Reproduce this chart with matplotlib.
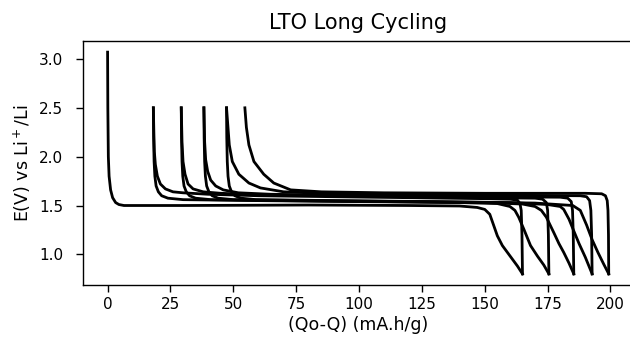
import matplotlib
matplotlib.use('Agg')
import matplotlib.pyplot as plt

## --- Galvanostatic cycling data, LTO half cell
# Capacity (Qo-Q) in mA.h/g and potential E in V vs Li+/Li
# Discharge 1 (first lithiation, from OCV)
dis1_q = [0, 0.1, 0.3, 0.6, 1.2, 2.0, 3.2, 4.5, 6.5, 30, 80, 120, 140, 147, 150, 152, 153.5, 155, 157, 159, 161, 163, 165]
dis1_e = [3.07, 2.5, 2.0, 1.8, 1.66, 1.58, 1.53, 1.51, 1.50, 1.50, 1.505, 1.50, 1.495, 1.48, 1.46, 1.41, 1.30, 1.19, 1.09, 1.02, 0.95, 0.88, 0.80]

# Charge 1
chg1_q = [165, 164.8, 164.5, 164, 163, 160, 150, 120, 90, 60, 40, 30, 26, 23, 21, 19.8, 19.0, 18.6, 18.4, 18.2]
chg1_e = [0.80, 1.20, 1.45, 1.52, 1.555, 1.565, 1.57, 1.58, 1.59, 1.60, 1.615, 1.63, 1.64, 1.67, 1.72, 1.80, 1.92, 2.05, 2.25, 2.50]

# Discharge 2
dis2_q = [18.2, 18.3, 18.5, 18.8, 19.3, 20.2, 21.5, 24, 30, 60, 100, 140, 155, 160, 162, 163.5, 165.5, 168.2, 171, 173.5, 175.5]
dis2_e = [2.50, 2.20, 1.95, 1.80, 1.70, 1.64, 1.60, 1.575, 1.56, 1.55, 1.54, 1.53, 1.52, 1.49, 1.45, 1.38, 1.26, 1.09, 0.98, 0.89, 0.80]

# Charge 2
chg2_q = [175.5, 175.3, 175, 174.5, 173, 170, 150, 120, 90, 60, 45, 38, 34, 32, 30.8, 30.0, 29.6, 29.3]
chg2_e = [0.80, 1.20, 1.45, 1.53, 1.565, 1.575, 1.58, 1.59, 1.60, 1.61, 1.625, 1.64, 1.67, 1.72, 1.82, 1.95, 2.15, 2.50]

# Discharge 3
dis3_q = [29.3, 29.4, 29.6, 29.9, 30.4, 31.3, 32.6, 35, 41, 70, 110, 150, 165, 170, 172.5, 174.5, 177.5, 179.5, 181.4, 183.5, 185.4]
dis3_e = [2.50, 2.20, 1.95, 1.80, 1.70, 1.64, 1.60, 1.575, 1.56, 1.55, 1.54, 1.53, 1.515, 1.49, 1.45, 1.38, 1.22, 1.11, 1.02, 0.91, 0.80]

# Charge 3
chg3_q = [185.4, 185.2, 184.9, 184.4, 183, 180, 150, 120, 90, 65, 52, 46, 43, 41, 39.8, 39.0, 38.6, 38.3]
chg3_e = [0.80, 1.20, 1.45, 1.54, 1.575, 1.585, 1.59, 1.60, 1.605, 1.615, 1.63, 1.66, 1.70, 1.76, 1.85, 1.97, 2.15, 2.50]

# Discharge 4
dis4_q = [38.3, 38.4, 38.6, 38.9, 39.4, 40.3, 41.6, 44, 50, 80, 120, 160, 175, 180, 181.4, 183.5, 185.4, 187.5, 190, 192.7]
dis4_e = [2.50, 2.20, 1.95, 1.80, 1.70, 1.64, 1.60, 1.575, 1.56, 1.55, 1.54, 1.53, 1.51, 1.49, 1.46, 1.36, 1.24, 1.11, 0.97, 0.80]

# Charge 4
chg4_q = [192.7, 192.5, 192.2, 191.7, 190.5, 188, 160, 120, 90, 70, 60.8, 56.2, 52.2, 49.6, 48.4, 47.3]
chg4_e = [0.80, 1.20, 1.45, 1.55, 1.59, 1.60, 1.605, 1.61, 1.62, 1.64, 1.68, 1.73, 1.82, 1.95, 2.12, 2.50]

# Discharge 5
dis5_q = [47.3, 47.4, 47.6, 47.9, 48.4, 49.3, 50.6, 53, 59, 90, 130, 170, 185, 188, 190.5, 192.7, 195, 197.3, 199.3]
dis5_e = [2.50, 2.20, 1.95, 1.80, 1.70, 1.64, 1.60, 1.575, 1.56, 1.55, 1.54, 1.525, 1.50, 1.45, 1.30, 1.15, 1.02, 0.90, 0.80]

# Charge 5
chg5_q = [199.3, 199.2, 199.0, 198.7, 198.0, 196.5, 190, 150, 110, 85, 72.8, 66.1, 62.1, 58.2, 56.2, 55.2, 54.6]
chg5_e = [0.80, 1.20, 1.45, 1.55, 1.60, 1.62, 1.625, 1.625, 1.63, 1.64, 1.66, 1.73, 1.82, 1.95, 2.12, 2.30, 2.50]

segments = [
    (dis1_q, dis1_e), (chg1_q, chg1_e),
    (dis2_q, dis2_e), (chg2_q, chg2_e),
    (dis3_q, dis3_e), (chg3_q, chg3_e),
    (dis4_q, dis4_e), (chg4_q, chg4_e),
    (dis5_q, dis5_e), (chg5_q, chg5_e),
]

### --- Plotting
fig = plt.figure(figsize=(6.3, 3.45), dpi=100)
ax = fig.add_axes([0.131, 0.174, 0.875, 0.707])
for q, e in segments:
    ax.plot(q, e, color='k', linewidth=2.0)

ax.set_xticks([0, 25, 50, 75, 100, 125, 150, 175, 200])
ax.set_yticks([1.0, 1.5, 2.0, 2.5, 3.0])
ax.spines['right'].set_visible(False) # axes runs past the right edge of the figure
for s in ax.spines.values():
    s.set_linewidth(1.0)
ax.tick_params(axis='both', labelsize=11, length=4.9, width=1.0)
ax.tick_params(axis='y', pad=9)
ax.tick_params(axis='x', pad=4)
ax.set_xlabel('(Qo-Q) (mA.h/g)', fontsize=12.5, labelpad=3)
ax.set_ylabel('E(V) vs Li$^+$/Li', fontsize=12.5)
ax.yaxis.set_label_coords(-0.09, 0.5)
ax.set_title('LTO Long Cycling', fontsize=15, pad=9)
plt.savefig('out.png', dpi=100)
plt.close()
